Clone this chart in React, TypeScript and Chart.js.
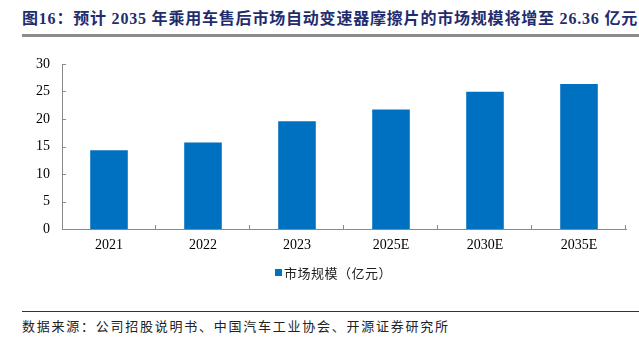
import React, { useEffect, useRef } from "react";
import { Chart, registerables } from "chart.js";

Chart.register(...registerables);

const categories = ["2021", "2022", "2023", "2025E", "2030E", "2035E"];
const marketSize = [14.3, 15.75, 19.6, 21.75, 24.95, 26.36];
const seriesLabel = "市场规模（亿元）";
const yTicks = [0, 5, 10, 15, 20, 25, 30];
const titleText = "图16：预计 2035 年乘用车售后市场自动变速器摩擦片的市场规模将增至 26.36 亿元";
const sourceText = "数据来源：公司招股说明书、中国汽车工业协会、开源证券研究所";

const BAR = "#0070C0";
const AXIS = "#8a8a8a";

const innerTicksAndLegend = {
  id: "innerTicksAndLegend",
  afterDraw(chart: any) {
    const { ctx, scales, chartArea } = chart;
    const x = scales.x;
    const y = scales.y;
    ctx.save();
    ctx.strokeStyle = AXIS;
    ctx.lineWidth = 1;
    const n = chart.data.labels.length;
    for (let i = 1; i <= n; i++) {
      const px = Math.round(x.left + ((x.right - x.left) * i) / n) - 0.5;
      ctx.beginPath();
      ctx.moveTo(px, chartArea.bottom);
      ctx.lineTo(px, chartArea.bottom - 4);
      ctx.stroke();
    }
    for (const v of yTicks) {
      if (v === 0) continue;
      const py = Math.round(y.getPixelForValue(v)) + 0.5;
      ctx.beginPath();
      ctx.moveTo(chartArea.left, py);
      ctx.lineTo(chartArea.left + 4, py);
      ctx.stroke();
    }
    // legend
    const ds = chart.data.datasets[0];
    const lx = 275;
    const ly = chartArea.bottom + 44;
    ctx.fillStyle = ds.backgroundColor;
    ctx.fillRect(lx, ly - 4, 7, 7);
    ctx.fillStyle = "#222";
    ctx.font = '13px "Noto Sans CJK SC", sans-serif';
    ctx.textBaseline = "middle";
    ctx.textAlign = "left";
    (ctx as any).letterSpacing = "0.5px";
    ctx.fillText(ds.label, lx + 9, ly);
    ctx.restore();
  },
};

export default function App() {
  const ref = useRef<HTMLCanvasElement>(null);
  useEffect(() => {
    document.body.style.margin = "0";
    const chart = new Chart(ref.current!, {
      type: "bar",
      data: {
        labels: categories,
        datasets: [
          {
            label: seriesLabel,
            data: marketSize,
            backgroundColor: BAR,
            borderWidth: 0,
            categoryPercentage: 1,
            barPercentage: 0.4,
          },
        ],
      },
      options: {
        animation: false,
        responsive: false,
        maintainAspectRatio: false,
        layout: { padding: { left: 0, right: 13, top: 24, bottom: 36 } },
        plugins: {
          legend: { display: false },
          tooltip: { enabled: false },
          title: { display: false },
        },
        scales: {
          x: {
            grid: { display: false, drawTicks: false },
            border: { display: true, color: AXIS, width: 1 },
            ticks: {
              color: "#000",
              font: { family: '"Liberation Serif", serif', size: 14 },
              padding: 8,
            },
            afterFit: (s: any) => {
              s.height = 30;
            },
          },
          y: {
            min: 0,
            max: 30,
            afterBuildTicks: (s: any) => {
              s.ticks = yTicks.map((v) => ({ value: v }));
            },
            grid: { display: false, drawTicks: false },
            border: { display: true, color: AXIS, width: 1 },
            ticks: {
              color: "#000",
              font: { family: '"Liberation Serif", serif', size: 14 },
              padding: 12,
            },
            afterFit: (s: any) => {
              s.width = 62;
            },
          },
        },
      },
      plugins: [innerTicksAndLegend],
    });
    return () => chart.destroy();
  }, []);

  return (
    <div style={{ position: "relative", width: 639, height: 352, background: "#fff", overflow: "hidden" }}>
      <div
        style={{
          position: "absolute",
          left: 22,
          top: 9,
          whiteSpace: "nowrap",
          fontFamily: '"Liberation Serif", "Noto Sans CJK SC", serif',
          fontWeight: "bold",
          fontSize: 16,
          letterSpacing: 0.8,
          color: "#1F2D6E",
          lineHeight: "20px",
        }}
      >
        {titleText}
      </div>
      <div style={{ position: "absolute", left: 22, top: 34, width: 617, height: 3, background: "#8c8c8c" }} />
      <canvas ref={ref} width={639} height={255} style={{ position: "absolute", left: 0, top: 40, width: 639, height: 255 }} />
      <div style={{ position: "absolute", left: 22, top: 311, width: 617, height: 1, background: "#333" }} />
      <div
        style={{
          position: "absolute",
          left: 22,
          top: 317,
          whiteSpace: "nowrap",
          fontFamily: '"Noto Sans CJK SC", sans-serif',
          fontSize: 13,
          letterSpacing: 1.75,
          color: "#222",
          lineHeight: "18px",
        }}
      >
        {sourceText}
      </div>
    </div>
  );
}
